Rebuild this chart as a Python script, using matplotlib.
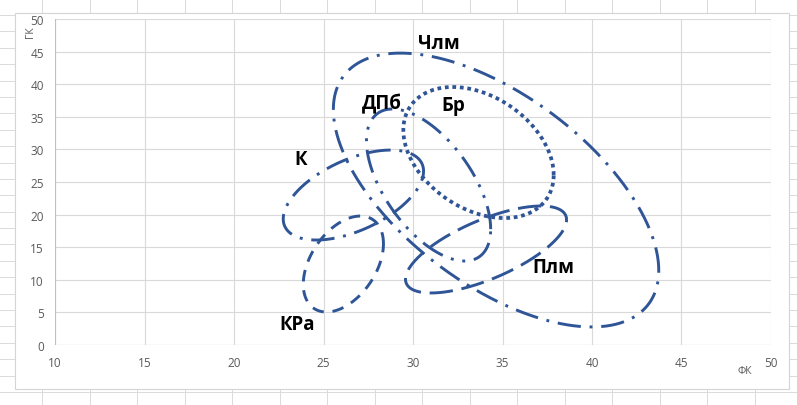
import numpy as np
import matplotlib
matplotlib.use("Agg")
import matplotlib.pyplot as plt
from matplotlib.lines import Line2D
from matplotlib.patches import Rectangle

# ---- data ----
labels = ['Члм', 'ДПб', 'Бр', 'К', 'Плм', 'КРа']
center_x = [34.64, 30.87, 33.66, 26.67, 34.08, 26.11]
center_y = [23.77, 24.54, 29.52, 23.0, 14.65, 12.42]
half_x = [9.09, 3.47, 4.2, 3.92, 4.5, 2.24]
half_y = [21.0, 11.66, 10.05, 6.9, 6.67, 7.36]
tilt_deg = [126, 125.5, 110, 58, 47, 65]
label_x = [31.43, 28.24, 32.27, 23.71, 37.86, 23.54]
label_y = [46.3, 37.1, 36.8, 28.5, 11.96, 3.2]
x_ticks = [10, 15, 20, 25, 30, 35, 40, 45, 50]
y_ticks = [0, 5, 10, 15, 20, 25, 30, 35, 40, 45, 50]
x_title = 'ФК'
y_title = 'ГК'

# ---- styles ----
line_color = '#2F5597'
dash_styles = {
    'Члм': (0, (8, 3, 1, 3)),
    'ДПб': (0, (8, 3, 1, 3, 1, 3)),
    'Бр': (0, (1, 1)),
    'К': (0, (8, 3, 1, 3)),
    'Плм': (0, (8, 3)),
    'КРа': (0, (4, 3)),
}
line_widths = {'Члм': 2.1, 'ДПб': 2.1, 'Бр': 2.7, 'К': 2.1, 'Плм': 2.1, 'КРа': 2.1}

W, H = 797, 406
fig = plt.figure(figsize=(W / 100, H / 100), dpi=100)
fig.patch.set_facecolor('white')

def fx(px):
    return px / W

def fy(py):
    return 1 - py / H

# spreadsheet grid behind the chart
for k in range(0, 17):
    xv = 42 + 47.5 * k
    fig.add_artist(Line2D([fx(xv), fx(xv)], [0, 1], color='#DADADA', lw=0.7, zorder=0))
for k in range(0, 25):
    yv = 15.9 + 16.4 * k
    fig.add_artist(Line2D([0, 1], [fy(yv), fy(yv)], color='#DADADA', lw=0.7, zorder=0))

# chart area
fig.add_artist(Rectangle((fx(15), fy(390)), fx(789) - fx(15), fy(14) - fy(390),
                         transform=fig.transFigure, facecolor='white',
                         edgecolor='#D4D4D4', lw=0.8, zorder=1))

ax = fig.add_axes([fx(55), fy(346), fx(771) - fx(55), fy(20) - fy(346)])
ax.set_zorder(2)
ax.set_facecolor('none')
ax.set_xlim(10, 50)
ax.set_ylim(0, 50)
ax.set_xticks(x_ticks)
ax.set_yticks(y_ticks)
ax.grid(True, color='#D9D9D9', lw=0.8)
ax.set_axisbelow(True)
for s in ax.spines.values():
    s.set_visible(False)
ax.axhline(0, color='#BFBFBF', lw=0.8, zorder=1)
ax.axvline(10, color='#BFBFBF', lw=0.8, zorder=1)
ax.tick_params(length=0, labelsize=8.5, labelcolor='#595959')
ax.tick_params(axis='y', pad=8)
ax.tick_params(axis='x', pad=8)
for lab in ax.get_xticklabels() + ax.get_yticklabels():
    lab.set_family(['Open Sans', 'DejaVu Sans'])

t = np.linspace(0, 2 * np.pi, 600)
for name, cx, cy, rx, ry, tilt in zip(labels, center_x, center_y, half_x, half_y, tilt_deg):
    phi = np.deg2rad(tilt)
    xs = cx + rx * np.cos(t)
    ys = cy + ry * np.cos(t - phi)
    ax.plot(xs, ys, color=line_color, lw=line_widths[name],
            linestyle=dash_styles[name], dash_capstyle='butt', zorder=3)

for name, lx, ly in zip(labels, label_x, label_y):
    ax.text(lx, ly, name, fontsize=13.5, fontweight='bold', color='black',
            ha='center', va='center', family=['Open Sans', 'DejaVu Sans'], zorder=4)

fig.text(fx(745), fy(372), x_title, fontsize=7.5, color='#595959',
         ha='center', va='center', family=['Open Sans', 'DejaVu Sans'])
fig.text(fx(30), fy(32), y_title, fontsize=7.5, color='#595959', rotation=90,
         ha='center', va='center', family=['Open Sans', 'DejaVu Sans'])

fig.savefig('out.png', dpi=100)
